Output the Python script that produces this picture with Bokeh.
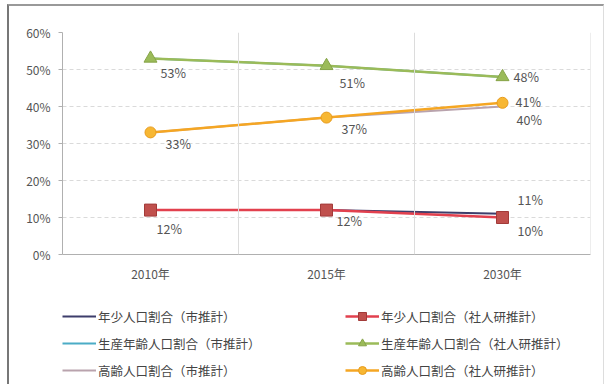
from bokeh.plotting import figure
from bokeh.layouts import column
from bokeh.models import FactorRange, Range1d, Span, Legend, LegendItem
from bokeh.embed import file_html
from bokeh.resources import INLINE
from bokeh.core.properties import value

# ---- data ----
years = ["2010年", "2015年", "2030年"]
young_city = [12, 12, 11]
young_ipss = [12, 12, 10]
work_city = [53, 51, 48]
work_ipss = [53, 51, 48]
old_city = [33, 37, 40]
old_ipss = [33, 37, 41]
y_ticks = [0, 10, 20, 30, 40, 50, 60]

names = [
    "年少人口割合（市推計）", "年少人口割合（社人研推計）",
    "生産年齢人口割合（市推計）", "生産年齢人口割合（社人研推計）",
    "高齢人口割合（市推計）", "高齢人口割合（社人研推計）",
]

FONT = "Noto Sans CJK JP"

# series styles: (color, width, marker, marker fill, marker line, size)
styles = [
    ("#3d3d6b", 2, None, None, None, 0),
    ("#e2404e", 2.5, "square", "#c0504d", "#a23b39", 12),
    ("#4bacc6", 2, None, None, None, 0),
    ("#9bbb59", 2.5, "triangle", "#9bbb59", "#86a448", 13),
    ("#b9a3ad", 2, None, None, None, 0),
    ("#f5a623", 2.5, "circle", "#f7b733", "#e89b1c", 11),
]
series = [young_city, young_ipss, work_city, work_ipss, old_city, old_ipss]

W = 594
p = figure(width=W, height=280,
           x_range=FactorRange(*years), y_range=Range1d(0, 60),
           output_backend="svg", toolbar_location=None,
           min_border_left=53, min_border_right=13,
           min_border_top=26, min_border_bottom=32)
p.outline_line_color = None
p.background_fill_color = "white"
p.border_fill_color = "white"

# axes
p.yaxis.ticker = y_ticks
p.yaxis.major_label_overrides = {t: f"{t}%" for t in y_ticks}
p.yaxis.axis_line_color = "#b0b0b0"
p.yaxis.major_tick_line_color = "#b0b0b0"
p.yaxis.major_tick_out = 4
p.yaxis.major_tick_in = 0
p.yaxis.minor_tick_line_color = None
p.yaxis.major_label_standoff = 8
p.xaxis.axis_line_color = "#b0b0b0"
p.xaxis.major_tick_line_color = None
p.xaxis.major_label_standoff = 4
for ax in (p.xaxis[0], p.yaxis[0]):
    ax.major_label_text_font = FONT
    ax.major_label_text_font_size = "12px"
    ax.major_label_text_color = "#555555"

p.xgrid.grid_line_color = None
p.ygrid.grid_line_color = "#dadada"
p.ygrid.grid_line_dash = "4 3"

for loc in [1, 2, 3]:
    p.add_layout(Span(location=loc, dimension="height", line_color="#dcdcdc", line_width=1))

# draw: city lines first, then IPSS lines with markers
for idx in [0, 2, 4, 1, 3, 5]:
    col, lw, mk, mf, ml, sz = styles[idx]
    p.line(years, series[idx], line_color=col, line_width=lw)
    if mk:
        p.scatter(years, series[idx], marker=mk, size=sz, fill_color=mf, line_color=ml)

# data labels
lab_x, lab_y, lab_t, lab_dx, lab_dy = [], [], [], [], []
def add(xs, ys, idxs, offs):
    for i, (dx, dy) in zip(idxs, offs):
        lab_x.append(xs[i]); lab_y.append(ys[i]); lab_t.append(f"{ys[i]}%")
        lab_dx.append(dx); lab_dy.append(dy)

add(years, work_ipss, [0, 1, 2], [(10, 14), (13, 17), (11, 0)])
add(years, old_ipss, [0, 1, 2], [(15, 11), (15, 11), (13, -1)])
add(years, young_ipss, [0, 1, 2], [(6, 18), (10, 10), (15, 13)])
add(years, young_city, [2], [(15, -14)])
add(years, old_city, [2], [(14, 13)])

p.text(x=lab_x, y=lab_y, text=lab_t, x_offset=lab_dx, y_offset=lab_dy,
       text_font=value(FONT), text_font_size="12.5px", text_color="#555555",
       text_align="left", text_baseline="middle")

# legend panel (separate figure below the chart)
lf = figure(width=W, height=98, x_range=(0, 1), y_range=(0, 1),
            output_backend="svg", toolbar_location=None, min_border=0)
lf.axis.visible = False
lf.grid.grid_line_color = None
lf.outline_line_color = None
lf.background_fill_color = "white"
lf.border_fill_color = "white"

nan = float("nan")
items = []
for idx in [0, 2, 4, 1, 3, 5]:
    col, lw, mk, mf, ml, sz = styles[idx]
    rs = [lf.line([nan], [nan], line_color=col, line_width=lw)]
    if mk:
        rs.append(lf.scatter([nan], [nan], marker=mk, size=sz - 5,
                             fill_color=mf, line_color=ml))
    items.append(LegendItem(label=names[idx], renderers=rs))

lg = Legend(items=items, location=(0, 4), orientation="vertical", ncols=2,
            glyph_width=34, glyph_height=20, label_height=20, spacing=7,
            label_standoff=2, label_width=240, padding=0, margin=0,
            border_line_color=None, background_fill_alpha=0,
            label_text_font=FONT, label_text_font_size="12.5px",
            label_text_color="#444444")
lf.add_layout(lg)

layout = column(p, lf, spacing=0)
layout.styles = {"margin-left": "7px", "margin-top": "4px",
                 "border-left": "2px solid #777", "border-top": "2px solid #999",
                 "border-right": "1px solid #ddd"}

open("out.html", "w").write(file_html(layout, INLINE))
